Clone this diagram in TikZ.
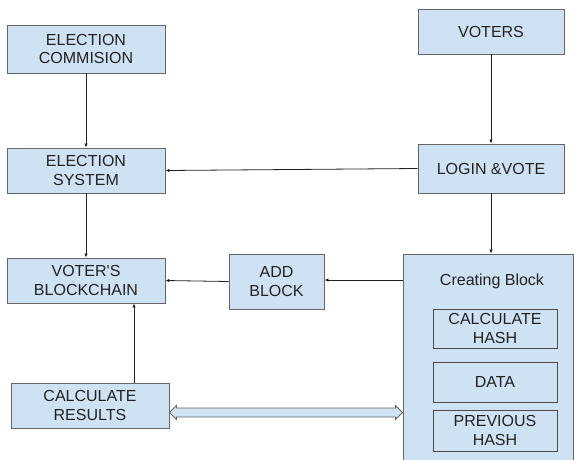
\documentclass[tikz,border=0pt]{standalone}
\usepackage{fontspec}
\setmainfont{Liberation Sans}[Ligatures=TeXOff]
\usetikzlibrary{arrows.meta,calc}
\definecolor{boxfill}{HTML}{CFE2F3}
\definecolor{boxline}{HTML}{666666}
\definecolor{innerline}{HTML}{4A4A4A}
\definecolor{txt}{HTML}{222222}
\tikzset{
  box/.style={draw=boxline, fill=boxfill, line width=0.9pt, align=center, text=txt,
    font=\fontsize{16}{18.5}\selectfont, inner sep=0pt},
  innerbox/.style={box, draw=innerline},
  conn/.style={draw=txt, line width=0.8pt, -{Latex[length=4pt,width=3.5pt]}},
  dblarrow/.style={draw=boxline, fill=boxfill, line width=0.9pt}
}
\begin{document}
\begin{tikzpicture}[x=1pt,y=-1pt]
\clip (0,0) rectangle (574,459);
\fill[white] (0,0) rectangle (574,459);
% main boxes
\node[box, minimum width=158, minimum height=48] (ec) at (86,49) {ELECTION\\COMMISION};
\node[box, minimum width=158, minimum height=45] (es) at (86,170.5) {ELECTION\\SYSTEM};
\node[box, minimum width=158, minimum height=45] (vb) at (86,280.5) {VOTER'S\\BLOCKCHAIN};
\node[box, minimum width=158, minimum height=45] (cr) at (90,405.5) {CALCULATE\\RESULTS};
\node[box, minimum width=146, minimum height=45] (voters) at (491,31.5) {VOTERS};
\node[box, minimum width=146, minimum height=49] (login) at (491,168.5) {LOGIN \&VOTE};
\node[box, minimum width=95, minimum height=55] (add) at (276.5,281.5) {ADD\\BLOCK};
\node[box, minimum width=170, minimum height=216] (cb) at (488,362) {};
\node[text=txt, font=\fontsize{16}{18.5}\selectfont, inner sep=0pt] (cbt) at (492,281) {Creating Block};
\node[innerbox, minimum width=124, minimum height=39] (ch) at (495,328.5) {CALCULATE\\HASH};
\node[innerbox, minimum width=124, minimum height=40] (data) at (495,382) {DATA};
\node[innerbox, minimum width=124, minimum height=41] (ph) at (495,430.5) {PREVIOUS\\HASH};
% connectors
\draw[conn] (ec.south) -- (es.north);
\draw[conn] (es.south) -- (vb.north);
\draw[conn] (voters.south) -- (login.north);
\draw[conn] (login.west) -- (es.east);
\draw[conn] (login.south) -- (login.south |- cb.north);
\draw[conn] (add.west) -- (vb.east);
\draw[conn] (cb.west |- 0,280) -- (add.east |- 0,280);
\draw[conn] ([xshift=44]cr.north) -- ([xshift=44]cr.north |- vb.south);
% double arrow
\coordinate (dl) at (cr.east |- 0,412.5);
\coordinate (dr) at (cb.west |- 0,412.5);
\draw[dblarrow] (dl) -- ($(dl)+(7,-7)$) -- ($(dl)+(7,-4.5)$) -- ($(dr)+(-7,-4.5)$)
  -- ($(dr)+(-7,-7)$) -- (dr) -- ($(dr)+(-7,7)$) -- ($(dr)+(-7,4.5)$)
  -- ($(dl)+(7,4.5)$) -- ($(dl)+(7,7)$) -- cycle;
\end{tikzpicture}
\end{document}
